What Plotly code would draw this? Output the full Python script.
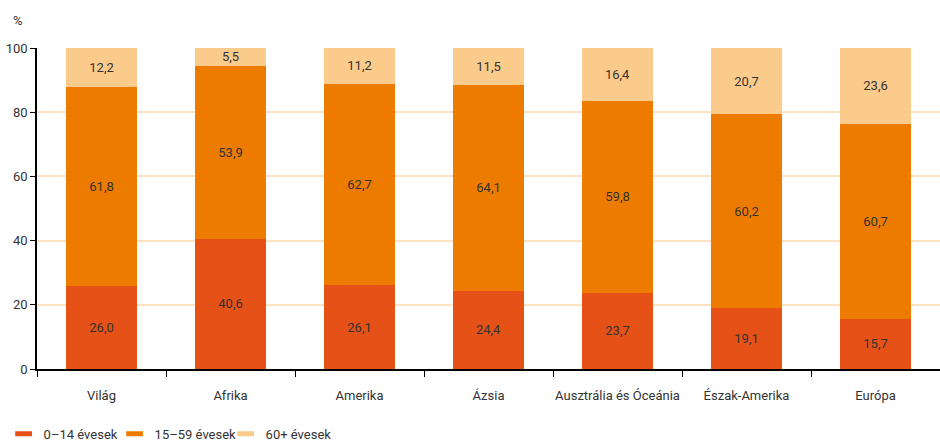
import plotly.graph_objects as go

categories = ["Világ", "Afrika", "Amerika", "Ázsia", "Ausztrália és Óceánia", "Észak-Amerika", "Európa"]
age_0_14 = [26.0, 40.6, 26.1, 24.4, 23.7, 19.1, 15.7]
age_15_59 = [61.8, 53.9, 62.7, 64.1, 59.8, 60.2, 60.7]
age_60p = [12.2, 5.5, 11.2, 11.5, 16.4, 20.7, 23.6]
series_names = ["0–14 évesek", "15–59 évesek", "60+ évesek"]
colors = ["#e65118", "#ed7b00", "#fbcb8c"]
y_ticks = [0, 20, 40, 60, 80, 100]

def fmt(v):
    return f"{v:.1f}".replace(".", ",")

fig = go.Figure()
for name, vals, col in zip(series_names, [age_0_14, age_15_59, age_60p], colors):
    fig.add_trace(go.Bar(
        x=categories, y=vals, name=name, showlegend=False,
        marker=dict(color=col, line=dict(width=0)),
        text=[fmt(v) for v in vals], textposition="inside", insidetextanchor="middle",
        textfont=dict(color="#333333", size=13), textangle=0,
        hoverinfo="skip",
    ))
for name, col in zip(series_names, colors):
    fig.add_trace(go.Scatter(
        x=[None], y=[None], mode="markers", name=name,
        marker=dict(symbol="line-ew", size=12, line=dict(color=col, width=5)),
    ))

fig.update_layout(
    barmode="stack", bargap=0.45,
    width=940, height=444,
    margin=dict(l=37, r=0, t=48, b=75, autoexpand=False),
    plot_bgcolor="white", paper_bgcolor="white",
    font=dict(family="Roboto, sans-serif", color="#333333", size=13),
    uniformtext=dict(mode="show", minsize=13),
    legend=dict(orientation="h", x=-0.037, xanchor="left", y=-0.155, yanchor="top",
                font=dict(size=13), traceorder="normal", itemwidth=30,
                entrywidth=66, entrywidthmode="pixels"),
    xaxis=dict(showline=True, linecolor="black", linewidth=1.5,
               ticks="outside", tickson="boundaries", ticklen=6, tickcolor="black",
               tickangle=0, automargin=False, ticklabelstandoff=14,
               tickfont=dict(size=13, color="#333333"), fixedrange=True),
    yaxis=dict(range=[0, 100], tickvals=y_ticks, showline=True, linecolor="black", linewidth=1.5,
               ticks="outside", ticklen=5, tickcolor="black", automargin=False,
               showgrid=True, gridcolor="#fde3c4", gridwidth=1.5, zeroline=False,
               tickfont=dict(size=13, color="#333333")),
    annotations=[dict(text="%", x=0, y=1, xref="paper", yref="paper", xshift=-26, yshift=18,
                      showarrow=False, xanchor="left", yanchor="bottom", font=dict(size=13))],
)

fig.write_html("out.html")
